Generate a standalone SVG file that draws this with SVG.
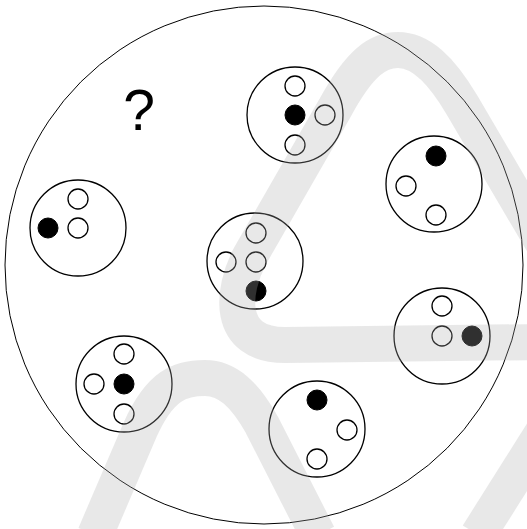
<svg xmlns="http://www.w3.org/2000/svg" width="527" height="529" viewBox="0 0 527 529">
<style>
.outer{fill:none;stroke:#000;stroke-width:1}
.node{fill:none;stroke:#000;stroke-width:1.3}
.w{fill:#fff;stroke:#000;stroke-width:1.3}
.b{fill:#000;stroke:#000;stroke-width:1}
.band{fill:none;stroke:#ababab;stroke-opacity:0.28;stroke-width:36}
.q{font-family:"Liberation Sans",Arial,sans-serif;font-size:57px;fill:#000}
</style>
<rect width="527" height="529" fill="#fff"/>
<circle id="outer" class="outer" cx="264" cy="265" r="259"/>
<text class="q" x="139" y="130" text-anchor="middle">?</text>
<g id="n1"><circle class="node" cx="295" cy="115" r="48"/><circle class="w" cx="295" cy="86" r="10"/><circle class="b" cx="295" cy="115" r="10"/><circle class="w" cx="325" cy="115" r="10"/><circle class="w" cx="295" cy="145" r="10"/></g>
<g id="n2"><circle class="node" cx="434" cy="184" r="48"/><circle class="b" cx="436" cy="156" r="10"/><circle class="w" cx="406" cy="186" r="10"/><circle class="w" cx="436" cy="215" r="10"/></g>
<g id="n3"><circle class="node" cx="255" cy="261" r="48"/><circle class="w" cx="256" cy="233" r="10"/><circle class="w" cx="226" cy="262" r="10"/><circle class="w" cx="256" cy="262" r="10"/><circle class="b" cx="256" cy="291" r="10"/></g>
<g id="n4"><circle class="node" cx="78" cy="228" r="48"/><circle class="w" cx="78" cy="199" r="10"/><circle class="b" cx="48" cy="228" r="10"/><circle class="w" cx="78" cy="228" r="10"/></g>
<g id="n5"><circle class="node" cx="442" cy="336" r="48"/><circle class="w" cx="442" cy="306" r="10"/><circle class="w" cx="442" cy="336" r="10"/><circle class="b" cx="472" cy="336" r="10"/></g>
<g id="n6"><circle class="node" cx="124" cy="384" r="48"/><circle class="w" cx="124" cy="354" r="10"/><circle class="w" cx="94" cy="384" r="10"/><circle class="b" cx="124" cy="384" r="10"/><circle class="w" cx="124" cy="414" r="10"/></g>
<g id="n7"><circle class="node" cx="317" cy="429" r="48"/><circle class="b" cx="317" cy="400" r="10"/><circle class="w" cx="347" cy="430" r="10"/><circle class="w" cx="317" cy="459" r="10"/></g>
<g id="connectors"></g>
<g id="watermark">
<path class="band" d="M540,342 L285,345 C225,345 232,290 250,256 L335,108 C360,62 378,50 398,50 C420,50 440,68 462,105 L550,255"/>
<path class="band" d="M95,535 L140,430 C160,385 180,378 205,378 C228,378 245,395 262,425 L318,535"/>
<path class="band" d="M478,535 L560,405"/>
</g>
</svg>
